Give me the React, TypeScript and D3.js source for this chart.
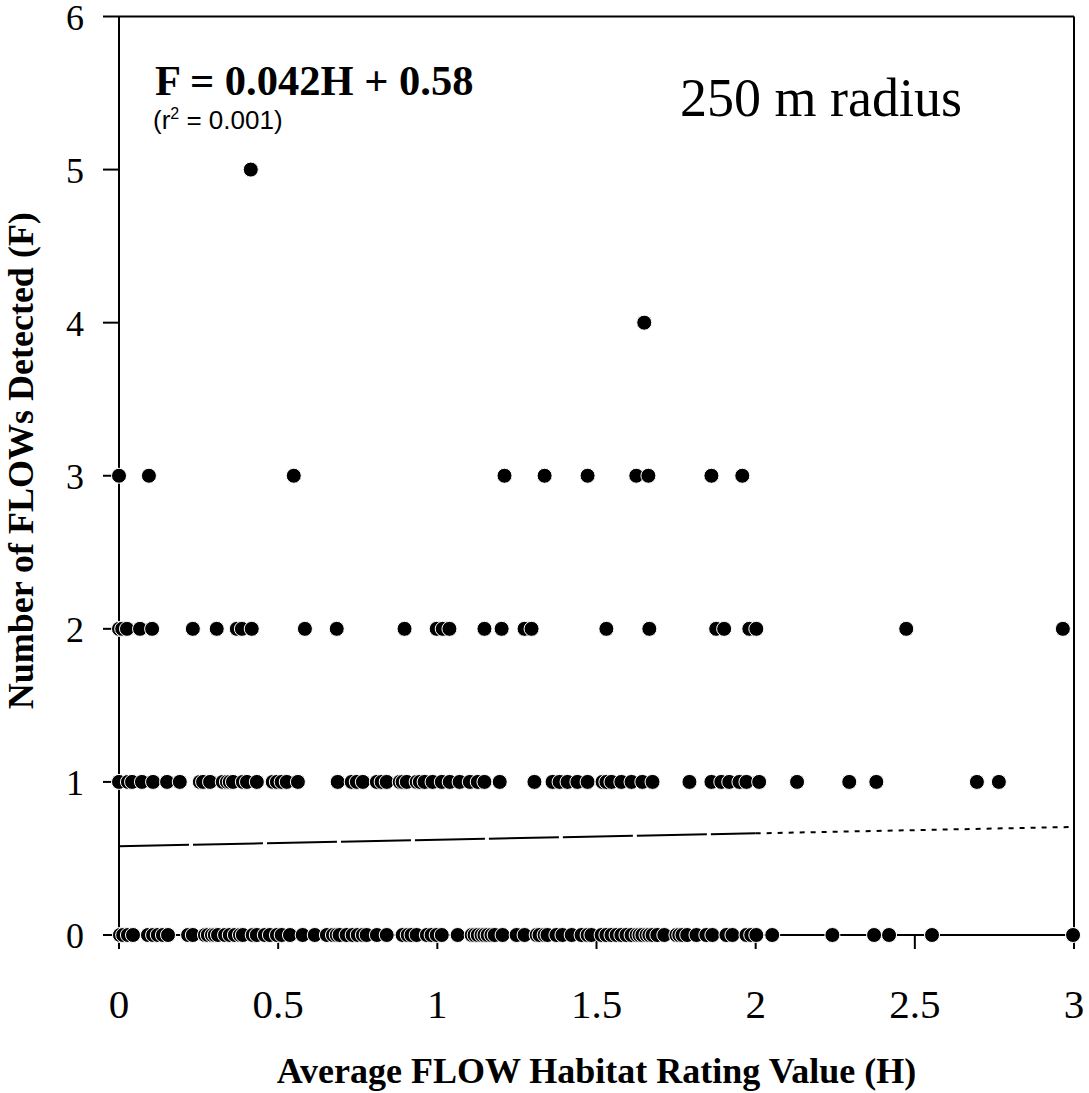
import React from "react";
import * as d3 from "d3";

// Number of FLOWs detected (F) at each average habitat rating value (H)
const habitatF0: number[] = [
  0.003, 0.013, 0.028, 0.044, 0.091, 0.107, 0.122, 0.138, 0.154, 0.217, 0.232, 0.27, 0.279, 0.292,
  0.301, 0.311, 0.333, 0.348, 0.364, 0.38, 0.389, 0.42, 0.433, 0.458, 0.474, 0.496, 0.511, 0.537,
  0.577, 0.615, 0.653, 0.672, 0.684, 0.693, 0.715, 0.734, 0.75, 0.766, 0.778, 0.81, 0.841, 0.891,
  0.907, 0.919, 0.935, 0.967, 0.982, 0.998, 1.014, 1.064, 1.108, 1.117, 1.127, 1.139, 1.148, 1.158,
  1.17, 1.18, 1.205, 1.249, 1.274, 1.312, 1.321, 1.337, 1.346, 1.374, 1.393, 1.422, 1.453, 1.472,
  1.484, 1.516, 1.531, 1.547, 1.563, 1.578, 1.594, 1.61, 1.626, 1.635, 1.644, 1.657, 1.666, 1.676,
  1.691, 1.713, 1.751, 1.76, 1.77, 1.785, 1.814, 1.845, 1.864, 1.908, 1.927, 1.971, 1.986, 2.002,
  2.052, 2.241, 2.372, 2.419, 2.554, 2.997,
];
const habitatF1: number[] = [
  0.0, 0.028, 0.041, 0.072, 0.107, 0.151, 0.191, 0.254, 0.264, 0.286, 0.326, 0.339, 0.348, 0.358,
  0.389, 0.402, 0.433, 0.483, 0.496, 0.511, 0.527, 0.562, 0.687, 0.731, 0.747, 0.766, 0.81, 0.825,
  0.841, 0.882, 0.891, 0.904, 0.935, 0.945, 0.96, 0.985, 1.014, 1.039, 1.07, 1.102, 1.127, 1.148,
  1.196, 1.305, 1.362, 1.384, 1.409, 1.44, 1.472, 1.519, 1.531, 1.547, 1.578, 1.61, 1.644, 1.676,
  1.792, 1.861, 1.892, 1.917, 1.949, 1.971, 2.011, 2.13, 2.294, 2.379, 2.695, 2.764,
];
const habitatF2: number[] = [
  0.0, 0.01, 0.025, 0.066, 0.104, 0.232, 0.307, 0.37, 0.386, 0.417, 0.584, 0.684, 0.897, 0.998,
  1.017, 1.038, 1.148, 1.202, 1.274, 1.296, 1.531, 1.666, 1.876, 1.901, 1.98, 2.002, 2.473, 2.965,
];
const habitatF3: number[] = [0.0, 0.094, 0.549, 1.211, 1.337, 1.472, 1.625, 1.663, 1.861, 1.958];
const habitatF4: number[] = [1.65];
const habitatF5: number[] = [0.414];

const xTicks: number[] = [0, 0.5, 1, 1.5, 2, 2.5, 3];
const yTicks: number[] = [0, 1, 2, 3, 4, 5, 6];

const slope = 0.042;
const intercept = 0.58;

const equationText = "F = 0.042H + 0.58";
const radiusText = "250 m radius";
const xTitle = "Average FLOW Habitat Rating Value (H)";
const yTitle = "Number of FLOWs Detected (F)";

export default function App() {
  const W = 1089;
  const H = 1093;
  const x = d3.scaleLinear().domain([0, 3]).range([119, 1074]);
  const y = d3.scaleLinear().domain([0, 6]).range([935, 16.5]);

  const groups = [habitatF0, habitatF1, habitatF2, habitatF3, habitatF4, habitatF5];
  const points: { h: number; f: number }[] = [];
  groups.forEach((arr, f) => arr.forEach((h) => points.push({ h, f })));
  points.sort((a, b) => a.h - b.h);

  const serif = "'Liberation Serif', 'Times New Roman', serif";
  const sans = "'Liberation Sans', Arial, sans-serif";

  const line = d3
    .line<number>()
    .x((h) => x(h))
    .y((h) => y(slope * h + intercept));

  const left = x(0);
  const right = x(3);
  const top = y(6);
  const bottom = y(0);

  return (
    <svg
      width={W}
      height={H}
      style={{ position: "absolute", left: 0, top: 0, background: "#fff" }}
    >
      <rect x={0} y={0} width={W} height={H} fill="#fff" />
      {/* regression line */}
      <path d={line([0, 2]) || ""} fill="none" stroke="#000" strokeWidth={2} strokeDasharray="70 4" />
      <path d={line([2, 3]) || ""} fill="none" stroke="#000" strokeWidth={2} strokeDasharray="5 6" />

      {/* frame */}
      <line x1={left} x2={right} y1={top} y2={top} stroke="#000" strokeWidth={2} />
      <line x1={right} x2={right} y1={top} y2={bottom} stroke="#000" strokeWidth={2} />
      <line x1={left} x2={left} y1={top} y2={bottom} stroke="#000" strokeWidth={2} />
      <line x1={left} x2={right} y1={bottom} y2={bottom} stroke="#000" strokeWidth={2} />

      {yTicks.map((t) => (
        <g key={"y" + t}>
          <line x1={left - 16} x2={left} y1={y(t)} y2={y(t)} stroke="#000" strokeWidth={2} />
          <text
            x={84}
            y={y(t) + 13}
            textAnchor="end"
            fontFamily={serif}
            fontSize={36}
            fill="#000"
          >
            {t}
          </text>
        </g>
      ))}
      {xTicks.map((t) => (
        <g key={"x" + t}>
          <line x1={x(t)} x2={x(t)} y1={bottom} y2={bottom + 14} stroke="#000" strokeWidth={2} />
          <text
            x={x(t)}
            y={1018}
            textAnchor="middle"
            fontFamily={serif}
            fontSize={41}
            fill="#000"
          >
            {t}
          </text>
        </g>
      ))}

      {/* points */}
      {points.map((p, i) => (
        <circle
          key={i}
          cx={x(p.h)}
          cy={y(p.f)}
          r={7.5}
          fill="#000"
          stroke="#fff"
          strokeWidth={1}
        />
      ))}

      {/* annotations */}
      <text x={155} y={95} fontFamily={serif} fontWeight="bold" fontSize={42.5} fill="#000">
        {equationText}
      </text>
      <text x={153} y={129} fontFamily={sans} fontSize={26} fill="#000">
        (r<tspan dy={-10} fontSize={16}>2</tspan>
        <tspan dy={10}> = 0.001)</tspan>
      </text>
      <text x={680} y={116} fontFamily={serif} fontSize={54} fill="#000">
        {radiusText}
      </text>

      {/* axis titles */}
      <text
        x={(left + right) / 2}
        y={1083}
        textAnchor="middle"
        fontFamily={serif}
        fontWeight="bold"
        fontSize={36}
        fill="#000"
      >
        {xTitle}
      </text>
      <text
        transform={`translate(33, ${(top + bottom) / 2 - 15}) rotate(-90)`}
        textAnchor="middle"
        fontFamily={serif}
        fontWeight="bold"
        fontSize={36}
        fill="#000"
      >
        {yTitle}
      </text>
    </svg>
  );
}
